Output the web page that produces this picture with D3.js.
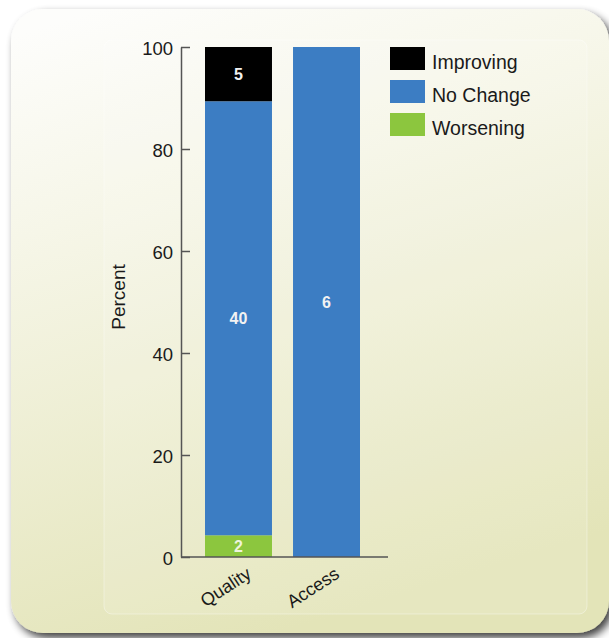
<!DOCTYPE html>
<html>
<head>
<meta charset="utf-8">
<script src="https://cdn.jsdelivr.net/npm/d3@7"></script>
<style>
  html, body { margin: 0; padding: 0; background: #ffffff; }
  svg { display: block; }
  text { font-family: "Liberation Sans", Arial, Helvetica, sans-serif; }
</style>
</head>
<body>
<svg id="chart" width="609" height="638"></svg>
<script>
// Categories and trend counts (number of measures per trend)
const categories = ["Quality", "Access"];
const seriesNames = ["Worsening", "No Change", "Improving"];
const worsening = [2, 0];
const noChange = [40, 6];
const improving = [5, 0];
const yTicks = [0, 20, 40, 60, 80, 100];
const legendOrder = ["Improving", "No Change", "Worsening"];

const colors = { "Improving": "#000000", "No Change": "#3c7dc3", "Worsening": "#8cc63e" };

const svg = d3.select("#chart");
const defs = svg.append("defs");

// Panel background gradient
const grad = defs.append("linearGradient").attr("id", "panelGrad")
  .attr("x1", "0.15").attr("y1", "0").attr("x2", "0.45").attr("y2", "1");
grad.append("stop").attr("offset", "0").attr("stop-color", "#fdfdfb");
grad.append("stop").attr("offset", "0.3").attr("stop-color", "#f6f6e8");
grad.append("stop").attr("offset", "1").attr("stop-color", "#e3e4b8");

const shadow = defs.append("filter").attr("id", "shadow")
  .attr("x", "-10%").attr("y", "-10%").attr("width", "130%").attr("height", "130%");
shadow.append("feGaussianBlur").attr("in", "SourceAlpha").attr("stdDeviation", 4).attr("result", "b");
shadow.append("feOffset").attr("in", "b").attr("dx", 4).attr("dy", 5).attr("result", "o");
shadow.append("feComponentTransfer").attr("in", "o").attr("result", "s")
  .append("feFuncA").attr("type", "linear").attr("slope", 0.75);
const merge = shadow.append("feMerge");
merge.append("feMergeNode").attr("in", "s");
merge.append("feMergeNode").attr("in", "SourceGraphic");

// Rounded panel
svg.append("rect")
  .attr("x", 11).attr("y", 9).attr("width", 598).attr("height", 624)
  .attr("rx", 32).attr("ry", 32)
  .attr("fill", "url(#panelGrad)")
  .attr("filter", "url(#shadow)");

// Faint inner plate
svg.append("rect")
  .attr("x", 104).attr("y", 40).attr("width", 483).attr("height", 574)
  .attr("rx", 8).attr("ry", 8)
  .attr("fill", "#ffffff").attr("fill-opacity", 0.12)
  .attr("stroke", "#ffffff").attr("stroke-opacity", 0.35);

// Scales
const axisX = 181;
const y = d3.scaleLinear().domain([0, 100]).range([557, 47]);
const x = d3.scaleBand().domain(categories).range([205, 360]).paddingInner(0.239).paddingOuter(0);

// Stacked percent data from counts
const rows = categories.map((c, i) => {
  const total = worsening[i] + noChange[i] + improving[i];
  return {
    category: c,
    "Worsening": worsening[i] / total * 100,
    "No Change": noChange[i] / total * 100,
    "Improving": improving[i] / total * 100,
    counts: { "Worsening": worsening[i], "No Change": noChange[i], "Improving": improving[i] }
  };
});
const stacked = d3.stack().keys(seriesNames)(rows);

// Bars
const g = svg.append("g");
stacked.forEach(layer => {
  g.selectAll(null).data(layer.filter(d => d[1] - d[0] > 0)).join("rect")
    .attr("x", d => x(d.data.category))
    .attr("width", x.bandwidth())
    .attr("y", d => y(d[1]))
    .attr("height", d => y(d[0]) - y(d[1]))
    .attr("fill", colors[layer.key]);
});

// Value labels inside segments
stacked.forEach(layer => {
  g.selectAll(null).data(layer.filter(d => d[1] - d[0] > 0)).join("text")
    .attr("x", d => x(d.data.category) + x.bandwidth() / 2)
    .attr("y", d => y((d[0] + d[1]) / 2))
    .attr("dy", "0.36em")
    .attr("text-anchor", "middle")
    .attr("font-size", 16).attr("font-weight", "bold")
    .attr("fill", layer.key === "Worsening" ? "#eef4dc" : "#f2f2f2")
    .text(d => d.data.counts[layer.key]);
});

// Y axis (ticks point inward)
const yAxis = d3.axisLeft(y).tickValues(yTicks).tickSizeInner(-9).tickSizeOuter(0).tickPadding(8);
const ya = svg.append("g").attr("transform", `translate(${axisX},0)`).call(yAxis);
ya.select(".domain").attr("stroke", "#555").attr("stroke-width", 1.5);
ya.selectAll(".tick line").attr("stroke", "#555").attr("stroke-width", 1.5);
ya.selectAll(".tick text").attr("font-size", 18.5).attr("fill", "#1a1a1a")
  .attr("dy", "0.42em")
  .attr("font-family", "Liberation Sans, Arial, sans-serif");

// Baseline
svg.append("line")
  .attr("x1", axisX).attr("x2", 388)
  .attr("y1", y(0)).attr("y2", y(0))
  .attr("stroke", "#555").attr("stroke-width", 1.5);

// Category labels (rotated)
svg.selectAll(null).data(categories).join("text")
  .attr("transform", d => `translate(${x(d) + x.bandwidth() / 2 + 7},${y(0) + 9}) rotate(-33)`)
  .attr("text-anchor", "end")
  .attr("dy", "0.72em")
  .attr("font-size", 18).attr("fill", "#1a1a1a")
  .text(d => d);

// Y axis title
svg.append("text")
  .attr("transform", `translate(125,297) rotate(-90)`)
  .attr("text-anchor", "middle")
  .attr("font-size", 19).attr("fill", "#1a1a1a")
  .text("Percent");

// Legend
const legend = svg.append("g").attr("transform", "translate(390,47)");
legendOrder.forEach((name, i) => {
  const row = legend.append("g").attr("transform", `translate(0,${i * 33})`);
  row.append("rect").attr("width", 35).attr("height", 23).attr("fill", colors[name]);
  row.append("text").attr("x", 42).attr("y", 22)
    .attr("font-size", 19.5).attr("fill", "#1a1a1a").text(name);
});
</script>
</body>
</html>
